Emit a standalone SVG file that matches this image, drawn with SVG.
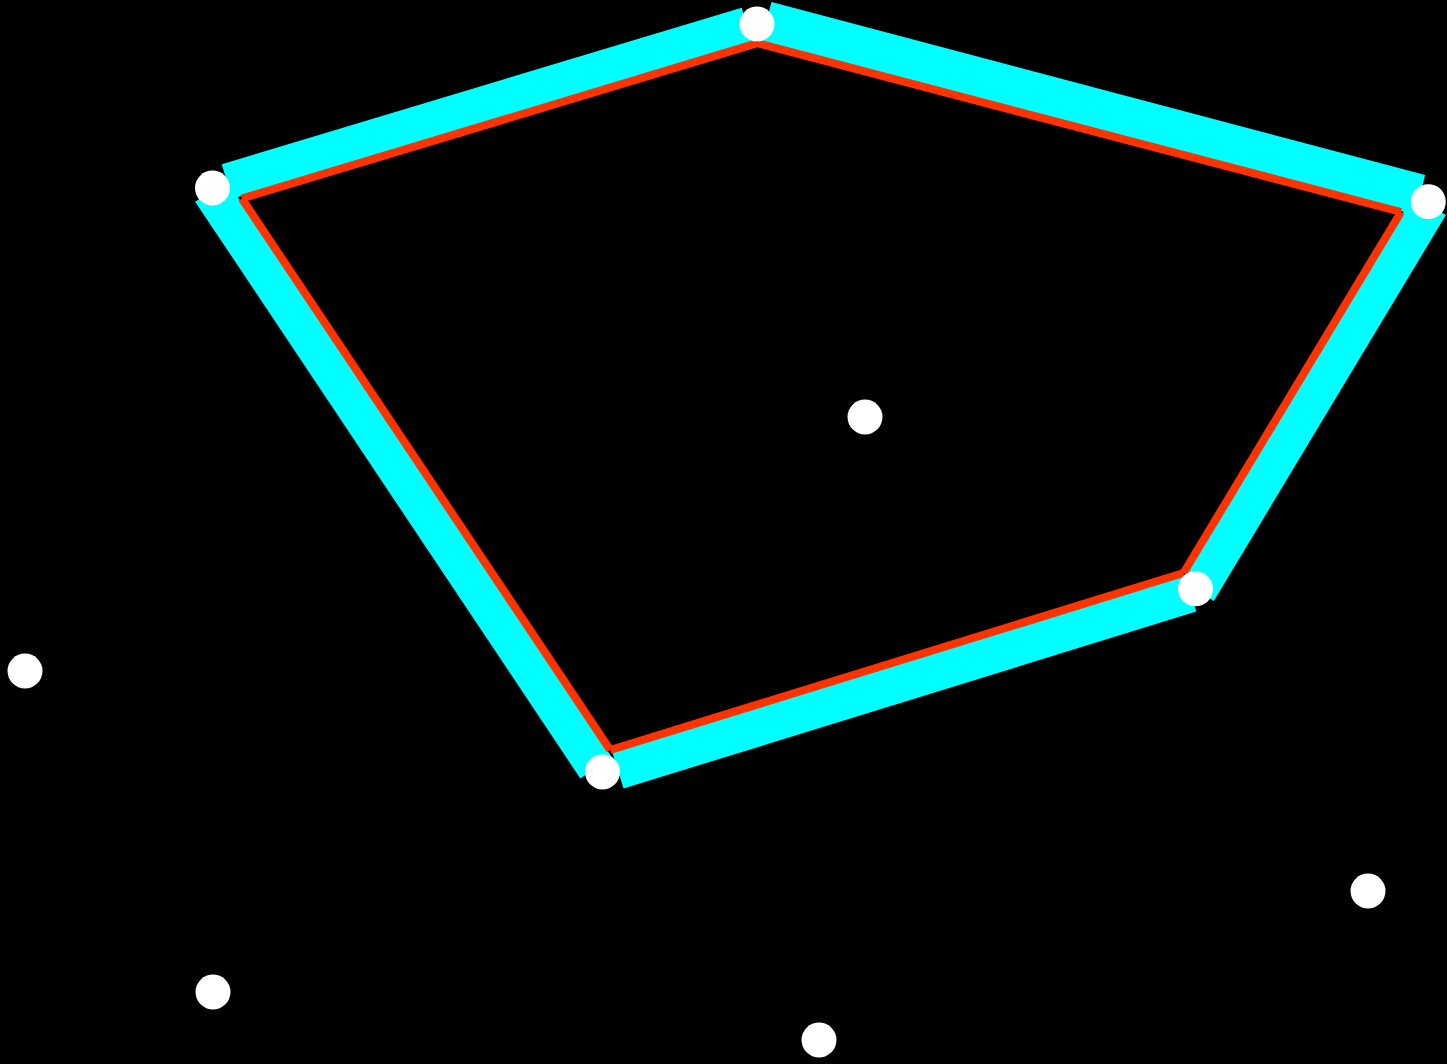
<svg xmlns="http://www.w3.org/2000/svg" width="1447" height="1064" viewBox="0 0 1447 1064">
<style>
.band{fill:#00ffff;stroke:none}
.inset{stroke:#ff3300;stroke-width:8;stroke-linecap:butt;fill:none}
.pt{fill:#ffffff}
</style>
<rect x="0" y="0" width="1447" height="1064" fill="#000000"/>
<g id="connectors">
<polygon class="band" points="221.76,164.32 741.66,7.73 752.04,42.2 232.14,198.79"/>
<polygon class="band" points="771.52,1.98 1425.23,175.02 1414.74,214.66 761.03,41.62"/>
<polygon class="band" points="1445.91,215.1 1213.83,601.0 1181.27,581.41 1413.35,195.51"/>
<polygon class="band" points="1196.26,611.59 623.51,788.53 612.30,752.22 1185.05,575.28"/>
<polygon class="band" points="580.31,778.4 195.14,201.63 226.75,180.52 611.92,757.29"/>
<line class="inset" x1="241.8" y1="198.5" x2="757.3" y2="43.2"/>
<line class="inset" x1="757.3" y1="43.2" x2="1401" y2="212"/>
<line class="inset" x1="1401" y1="212" x2="1183.5" y2="573"/>
<line class="inset" x1="1183.5" y1="573" x2="610.2" y2="750"/>
<line class="inset" x1="610.2" y1="750" x2="241.8" y2="198.5"/>
</g>
<g id="n1"><circle class="pt" cx="212.5" cy="188" r="17.5"/></g>
<g id="n2"><circle class="pt" cx="757" cy="24" r="17.5"/></g>
<g id="n3"><circle class="pt" cx="1428.3" cy="201.7" r="17.5"/></g>
<g id="n4"><circle class="pt" cx="1195.5" cy="588.8" r="17.5"/></g>
<g id="n5"><circle class="pt" cx="602.5" cy="772" r="17.5"/></g>
<g id="n6"><circle class="pt" cx="865" cy="417" r="17.5"/></g>
<g id="n7"><circle class="pt" cx="25" cy="671" r="17.5"/></g>
<g id="n8"><circle class="pt" cx="213" cy="992" r="17.5"/></g>
<g id="n9"><circle class="pt" cx="819" cy="1040" r="17.5"/></g>
<g id="n10"><circle class="pt" cx="1368" cy="891" r="17.5"/></g>
</svg>
